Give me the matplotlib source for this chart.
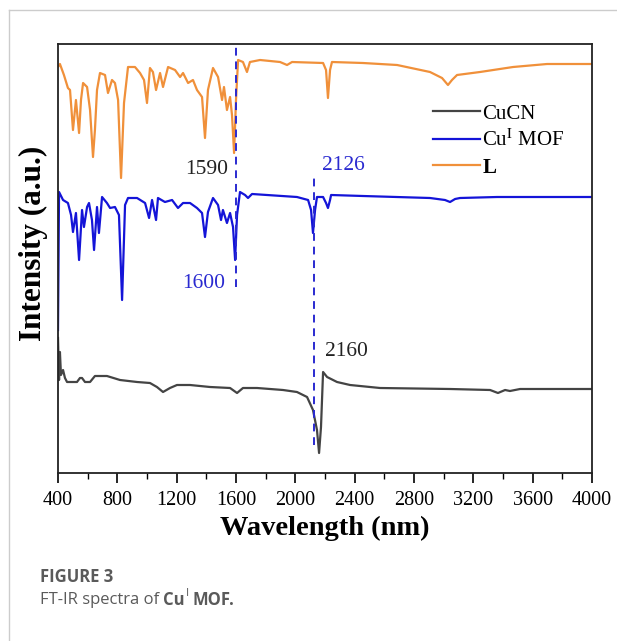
import matplotlib
matplotlib.use("Agg")
import matplotlib.pyplot as plt
from matplotlib.ticker import MultipleLocator
from matplotlib.lines import Line2D

# ---------------- data ----------------
# wavelength axis (nm) and intensities (arbitrary units)
l_wave = [400, 413, 440, 467, 481, 501, 521, 542, 555, 569, 596, 616, 636, 649, 663,
          683, 717, 737, 764, 784, 805, 825, 845, 872, 919, 953, 980, 1000, 1020, 1040,
          1061, 1088, 1108, 1142, 1189, 1223, 1243, 1277, 1310, 1337, 1371, 1391, 1411,
          1445, 1479, 1506, 1519, 1539, 1560, 1573, 1587, 1600, 1614, 1647, 1674, 1694,
          1762, 1897, 1944, 1978, 2187, 2207, 2220, 2234, 2247, 2456, 2686, 2908, 2989,
          3029, 3056, 3090, 3245, 3468, 3697, 4000]
l_pix = [67, 64, 75, 88, 90, 130, 100, 133, 100, 83, 87, 110, 157, 130, 90,
         73, 75, 93, 80, 83, 100, 178, 103, 67, 67, 73, 80, 103, 68, 72,
         90, 73, 87, 67, 70, 77, 73, 83, 80, 90, 97, 138, 90,
         68, 77, 100, 87, 110, 97, 115, 153, 100, 60, 62, 72, 62,
         60, 62, 65, 62, 63, 70, 98, 70, 62, 63, 65, 72, 78,
         85, 80, 75, 72, 67, 64, 64]
l_int = [473 - p for p in l_pix]

mof_wave = [400, 407, 434, 467, 488, 501, 521, 542, 562, 575, 596, 609, 629, 643, 663,
            676, 697, 730, 751, 784, 811, 832, 852, 872, 933, 987, 1014, 1034, 1061, 1074,
            1121, 1169, 1209, 1243, 1290, 1337, 1371, 1391, 1411, 1445, 1479, 1499, 1512,
            1539, 1560, 1580, 1594, 1607, 1627, 1661, 1681, 1708, 2011, 2086, 2106, 2119,
            2133, 2146, 2187, 2207, 2220, 2234, 2241, 2456, 2908, 3009, 3043, 3077, 3110,
            3360, 4000]
mof_pix = [330, 192, 200, 203, 215, 232, 213, 260, 210, 227, 207, 203, 220, 250, 207,
           233, 197, 203, 208, 207, 215, 300, 205, 198, 198, 203, 218, 200, 220, 198,
           202, 200, 208, 203, 203, 208, 213, 237, 212, 198, 205, 220, 210,
           223, 213, 227, 260, 215, 192, 195, 198, 194, 197, 200, 210, 233,
           210, 197, 197, 203, 208, 200, 195, 196, 198, 200, 202, 199, 198,
           197, 197]
mof_int = [473 - p for p in mof_pix]

cucn_wave = [400, 407, 413, 420, 434, 447, 461, 494, 528, 548, 562, 582, 596, 616, 649,
             730, 818, 933, 1020, 1067, 1108, 1155, 1202, 1290, 1425, 1560, 1607, 1647,
             1742, 1917, 2011, 2079, 2119, 2146, 2160, 2173, 2187, 2214, 2281, 2369, 2571,
             3043, 3313, 3366, 3414, 3447, 3515, 4000]
cucn_pix = [338, 380, 352, 375, 370, 378, 382, 382, 382, 378, 378, 382, 382, 382, 376,
            376, 380, 382, 383, 387, 392, 388, 385, 385, 387, 388, 393, 388,
            388, 390, 392, 397, 410, 430, 453, 427, 372, 377, 382, 385, 388,
            389, 390, 393, 390, 391, 389, 389]
cucn_int = [473 - p for p in cucn_pix]

series_labels = ["CuCN", "Cu$^{\\mathrm{I}}$ MOF", "L"]
series_colors = ["#444444", "#1414d8", "#f0903a"]
x_ticks = [400, 800, 1200, 1600, 2000, 2400, 2800, 3200, 3600, 4000]
peak_marks = [1600, 2126]

# ---------------- figure ----------------
plt.rcParams["font.family"] = ["Liberation Serif", "DejaVu Serif"]
plt.rcParams["mathtext.fontset"] = "stix"

fig = plt.figure(figsize=(6.17, 6.41), dpi=100)
ax = fig.add_axes([58 / 617, 168 / 641, 534 / 617, 429 / 641])

ax.plot(cucn_wave, cucn_int, color=series_colors[0], lw=1.6, label=series_labels[0])
ax.plot(mof_wave, mof_int, color=series_colors[1], lw=1.6, label=series_labels[1])
ax.plot(l_wave, l_int, color=series_colors[2], lw=1.6, label=series_labels[2])

# dashed marker lines
ax.plot([peak_marks[0]] * 2, [186, 429], color="#2a2ad0", lw=1.4, ls=(0, (4, 3)))
ax.plot([peak_marks[1]] * 2, [28, 300], color="#2a2ad0", lw=1.4, ls=(0, (4, 3)))

ax.set_xlim(400, 4000)
ax.set_ylim(0, 429)
ax.set_xticks(x_ticks)
ax.xaxis.set_minor_locator(MultipleLocator(200))
ax.set_yticks([])
ax.tick_params(axis="x", which="major", direction="out", length=7, width=1.2,
               labelsize=14.5, pad=6, top=False)
ax.tick_params(axis="x", which="minor", direction="out", length=4, width=1.0, top=False)
for s in ax.spines.values():
    s.set_linewidth(1.3)
    s.set_color("#222222")

ax.set_xlabel("Wavelength (nm)", fontsize=20.5, fontweight="bold", labelpad=4)
ax.set_ylabel("Intensity (a.u.)", fontsize=22.5, fontweight="bold")
ax.yaxis.set_label_coords(-0.018, 0.535)

# annotations
ax.text(1546, 304, "1590", fontsize=15.5, color="#222222", ha="right", va="center")
ax.text(1526, 190, "1600", fontsize=15.5, color="#2a2ad0", ha="right", va="center")
ax.text(2180, 308, "2126", fontsize=15.5, color="#2a2ad0", ha="left", va="center")
ax.text(2200, 121, "2160", fontsize=15.5, color="#222222", ha="left", va="center")

handles = [Line2D([], [], color=c, lw=1.6) for c in series_colors]
leg = ax.legend(handles, series_labels, loc="upper left", bbox_to_anchor=(0.702, 0.86),
                frameon=False, fontsize=15, handlelength=2.25, handletextpad=0.12,
                labelspacing=0.3, borderpad=0, borderaxespad=0)
leg.get_texts()[2].set_fontweight("bold")

# card border
fig.add_artist(Line2D([9 / 617, 9 / 617], [0, 1 - 10 / 641], color="#cccccc", lw=1.0,
                      transform=fig.transFigure))
fig.add_artist(Line2D([9 / 617, 1], [1 - 10 / 641, 1 - 10 / 641], color="#cccccc", lw=1.0,
                      transform=fig.transFigure))

# caption
cap_color = "#5a5a5a"
fig.text(40 / 617, 1 - 577 / 641, "FIGURE 3", fontsize=12, fontweight="bold",
         color=cap_color, family=["Open Sans", "DejaVu Sans"], va="center")
t1 = fig.text(40 / 617, 1 - 600 / 641, "FT-IR spectra of ", fontsize=12,
              color=cap_color, family=["Open Sans", "DejaVu Sans"], va="center")
fig.canvas.draw()
r = fig.canvas.get_renderer()
bb = t1.get_window_extent(renderer=r)
x2 = bb.x1 / fig.bbox.width
t2 = fig.text(x2, 1 - 600 / 641, "Cu", fontsize=12, fontweight="bold",
              color=cap_color, family=["Open Sans", "DejaVu Sans"], va="center")
bb2 = t2.get_window_extent(renderer=r)
x3 = bb2.x1 / fig.bbox.width
t3 = fig.text(x3 + 1 / 617, 1 - 594 / 641, "I", fontsize=8,
              color=cap_color, family=["Open Sans", "DejaVu Sans"], va="center")
bb3 = t3.get_window_extent(renderer=r)
x4 = bb3.x1 / fig.bbox.width
fig.text(x4 + 3 / 617, 1 - 600 / 641, "MOF.", fontsize=12, fontweight="bold",
         color=cap_color, family=["Open Sans", "DejaVu Sans"], va="center")

fig.savefig("out.png", dpi=100)
